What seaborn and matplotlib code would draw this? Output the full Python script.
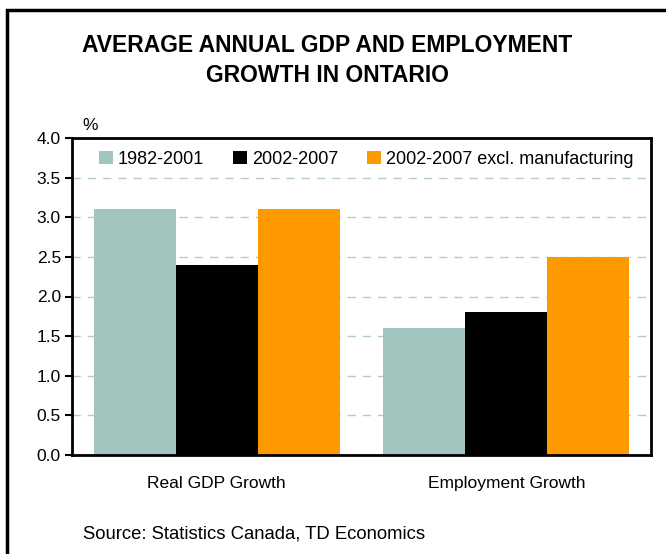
import matplotlib
matplotlib.use("Agg")
import matplotlib.pyplot as plt
import seaborn as sns
import pandas as pd
from matplotlib.patches import Rectangle

categories = ["Real GDP Growth", "Employment Growth"]
series = ["1982-2001", "2002-2007", "2002-2007 excl. manufacturing"]
v_1982_2001 = [3.1, 1.6]
v_2002_2007 = [2.4, 1.8]
v_excl_manuf = [3.1, 2.5]
colors = ["#A0C4BE", "#000000", "#FF9900"]
yticks = [0.0, 0.5, 1.0, 1.5, 2.0, 2.5, 3.0, 3.5, 4.0]

rows = []
for s, vals in zip(series, [v_1982_2001, v_2002_2007, v_excl_manuf]):
    for c, v in zip(categories, vals):
        rows.append({"category": c, "series": s, "value": v})
df = pd.DataFrame(rows)

sns.set_style("white")
plt.rcParams["font.family"] = ["Liberation Sans", "DejaVu Sans"]
plt.rcParams["text.color"] = "black"
plt.rcParams["xtick.color"] = "black"
plt.rcParams["ytick.color"] = "black"

fig = plt.figure(figsize=(6.66, 5.54), dpi=100)
ax = fig.add_axes([72/666, 1-455/554, (651-72)/666, (455-138)/554])

sns.barplot(data=df, x="category", y="value", hue="series", order=categories,
            hue_order=series, palette=colors, width=0.85, saturation=1,
            edgecolor="none", linewidth=0, ax=ax, zorder=2)

ax.set_xlim(-0.5, 1.5)
ax.set_ylim(0, 4.0)
ax.set_yticks(yticks)
ax.set_yticklabels([f"{t:.1f}" for t in yticks], fontsize=12.5)
ax.tick_params(axis="x", length=0, labelsize=12.5, pad=15, colors="black")
ax.tick_params(axis="y", length=5, width=1.5, direction="out", left=True, pad=3, colors="black")
ax.set_xlabel("")
ax.set_ylabel("")
for sp in ax.spines.values():
    sp.set_visible(True)
    sp.set_color("black")
    sp.set_linewidth(2)
ax.yaxis.grid(True, linestyle=(0, (6, 5)), color="#B3CECA", linewidth=1, zorder=0)
ax.set_axisbelow(True)

leg = ax.legend(loc="upper left", bbox_to_anchor=(0.025, 1.0), ncol=3, frameon=False,
                fontsize=13, handlelength=0.75, handleheight=0.75, handletextpad=0.3,
                columnspacing=1.6, borderaxespad=0.3)
for t in leg.get_texts():
    t.set_color("black")

fig.text(327/666, 1-45/554, "AVERAGE ANNUAL GDP AND EMPLOYMENT", ha="center", va="center",
         fontsize=16.5, fontweight="bold", color="black")
fig.text(327/666, 1-75/554, "GROWTH IN ONTARIO", ha="center", va="center",
         fontsize=16.5, fontweight="bold", color="black")
fig.text(82/666, 1-125/554, "%", ha="left", va="center", fontsize=12.5, color="black")
fig.text(83/666, 1-534/554, "Source: Statistics Canada, TD Economics", ha="left", va="center",
         fontsize=13.3, color="black")

fig.patches.append(Rectangle((7/666, -0.05), 1.1, 1-10/554+0.05, transform=fig.transFigure,
                             fill=False, edgecolor="black", linewidth=2.5, clip_on=False))

fig.savefig("out.png", dpi=100)
